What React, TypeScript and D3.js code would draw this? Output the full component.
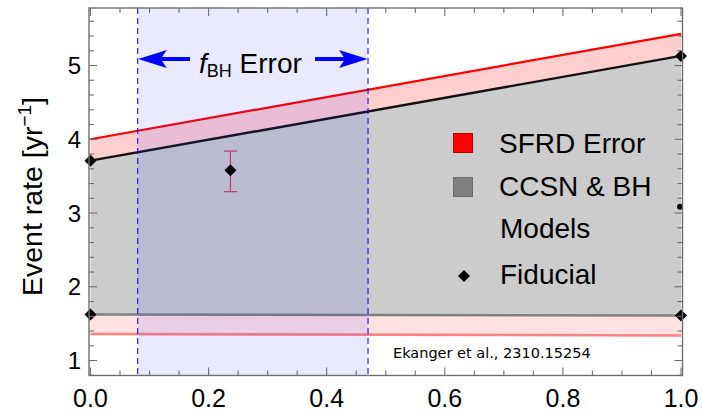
import React from "react";
import * as d3 from "d3";

const W = 702;
const H = 412;

// Model curves at f_BH = 0 and f_BH = 1
const xEnds = [0, 1];
const sfrdUpper = [4.0, 5.43];
const modelUpper = [3.71, 5.13];
const modelLower = [1.625, 1.61];
const sfrdLower = [1.36, 1.34];

// Fiducial markers
const fiducialX = [0, 1, 0, 1];
const fiducialY = [3.71, 5.13, 1.625, 1.61];

// Point with error bar
const measuredX = [0.237];
const measuredY = [3.58];
const measuredLo = [3.29];
const measuredHi = [3.84];

// Extra small dot on the right edge
const dotX = [1];
const dotY = [3.085];

// f_BH uncertainty band
const fbhRange = [0.08, 0.47];

const xTickValues = [0, 0.2, 0.4, 0.6, 0.8, 1.0];
const xTickLabels = ["0.0", "0.2", "0.4", "0.6", "0.8", "1.0"];
const yTickValues = [1, 2, 3, 4, 5];
const yTickLabels = ["1", "2", "3", "4", "5"];
const legendLabels = ["SFRD Error", "CCSN & BH", "Models", "Fiducial"];

const FONT = "'Liberation Sans', Arial, Helvetica, sans-serif";

const left = 89;
const right = 682.5;
const top = 8;
const bottom = 375.5;

const x = d3.scaleLinear().domain([-0.0025, 1.0025]).range([left, right]);
const y = d3.scaleLinear().domain([0.797, 5.78]).range([bottom, top]);

const band = (hi: number[], lo: number[]) =>
  d3
    .area<number>()
    .x((d) => x(d))
    .y0((_, i) => y(lo[i]))
    .y1((_, i) => y(hi[i]))(xEnds) as string;

const line = (vals: number[]) =>
  d3
    .line<number>()
    .x((d) => x(d))
    .y((_, i) => y(vals[i]))(xEnds) as string;

const diamond = (cx: number, cy: number, r: number) =>
  `M${cx},${cy - r}L${cx + r},${cy}L${cx},${cy + r}L${cx - r},${cy}Z`;

export default function App() {
  const xMinor = d3.range(0, 1.0001, 0.05);
  const yMinor = d3.range(0.8, 5.8, 0.2);
  const isMajorX = (v: number) => Math.abs(v * 5 - Math.round(v * 5)) < 1e-6;
  const isMajorY = (v: number) => Math.abs(v - Math.round(v)) < 1e-6;

  const bx0 = x(fbhRange[0]);
  const bx1 = x(fbhRange[1]);
  const arrowY = 59;

  const axisColor = "#6e6e6e";

  return (
    <svg
      width={W}
      height={H}
      style={{ position: "absolute", left: 0, top: 0, background: "#fff" }}
      fontFamily={FONT}
    >
      {/* bands */}
      <path d={band(sfrdUpper, modelUpper)} fill="#ffcfcf" />
      <path d={band(modelUpper, modelLower)} fill="#cccccc" />
      <path d={band(modelLower, sfrdLower)} fill="#ffe1e1" />

      {/* boundary lines */}
      <path d={line(sfrdUpper)} fill="none" stroke="#ff0000" strokeWidth={2.2} />
      <path d={line(modelUpper)} fill="none" stroke="#111" strokeWidth={2.4} />
      <path d={line(modelLower)} fill="none" stroke="#808080" strokeWidth={2.6} />
      <path d={line(sfrdLower)} fill="none" stroke="#ff8080" strokeWidth={2.6} />

      {/* error bar */}
      {measuredX.map((mx, i) => (
        <g key={i} stroke="#c8405a" strokeWidth={1.2}>
          <line x1={x(mx)} x2={x(mx)} y1={y(measuredHi[i])} y2={y(measuredLo[i])} />
          <line x1={x(mx) - 6.5} x2={x(mx) + 6.5} y1={y(measuredHi[i])} y2={y(measuredHi[i])} />
          <line x1={x(mx) - 6.5} x2={x(mx) + 6.5} y1={y(measuredLo[i])} y2={y(measuredLo[i])} />
        </g>
      ))}

      {/* f_BH band */}
      <rect x={bx0} y={top} width={bx1 - bx0} height={bottom - top} fill="rgba(40,40,255,0.1)" />
      <line x1={bx0} x2={bx0} y1={top} y2={bottom} stroke="#0000e0" strokeWidth={1} strokeDasharray="6,4" />
      <line x1={bx1} x2={bx1} y1={top} y2={bottom} stroke="#0000e0" strokeWidth={1} strokeDasharray="6,4" />

      {/* arrows */}
      <g fill="#0000ff" stroke="none">
        <rect x={bx0 + 20} y={arrowY - 2} width={190 - bx0 - 20} height={4} />
        <path d={`M${bx0 + 0.5},${arrowY}L${bx0 + 29},${arrowY - 9}L${bx0 + 23},${arrowY}L${bx0 + 29},${arrowY + 9}Z`} />
        <rect x={315} y={arrowY - 2} width={bx1 - 20 - 315} height={4} />
        <path d={`M${bx1 - 0.5},${arrowY}L${bx1 - 29},${arrowY - 9}L${bx1 - 23},${arrowY}L${bx1 - 29},${arrowY + 9}Z`} />
      </g>
      <text x={199} y={73} fontSize={28} fill="#000">
        <tspan fontStyle="italic">f</tspan>
        <tspan fontSize={18} dy={4}>BH</tspan>
        <tspan dy={-4}> Error</tspan>
      </text>

      {/* fiducial markers */}
      {fiducialX.map((fx, i) => (
        <path key={i} d={diamond(x(fx), y(fiducialY[i]), 6)} fill="#000" />
      ))}
      {measuredX.map((mx, i) => (
        <path key={i} d={diamond(x(mx), y(measuredY[i]), 6)} fill="#000" />
      ))}
      {dotX.map((dx, i) => (
        <circle key={i} cx={x(dx) - 1} cy={y(dotY[i])} r={3} fill="#000" />
      ))}

      {/* legend */}
      <rect x={453.5} y={133.5} width={19} height={19} fill="#ff0000" stroke="#c00000" strokeWidth={1} />
      <rect x={453.5} y={177.5} width={19} height={19} fill="#808080" stroke="#6a6a6a" strokeWidth={1} />
      <path d={diamond(464, 276, 6)} fill="#000" />
      <g fontSize={28} fill="#000">
        <text x={499} y={153}>{legendLabels[0]}</text>
        <text x={499} y={196}>{legendLabels[1]}</text>
        <text x={500} y={238}>{legendLabels[2]}</text>
        <text x={500} y={284}>{legendLabels[3]}</text>
      </g>

      {/* credit */}
      <text x={393} y={358} fontSize={14.5} fontFamily="'DejaVu Sans', sans-serif" fill="#000">
        Ekanger et al., 2310.15254
      </text>

      {/* frame */}
      <rect x={left} y={top} width={right - left} height={bottom - top} fill="none" stroke={axisColor} strokeWidth={1.4} />
      <g stroke={axisColor} strokeWidth={1.1}>
        {xMinor.map((v, i) => {
          const len = isMajorX(v) ? 8 : 5;
          return (
            <g key={i}>
              <line x1={x(v)} x2={x(v)} y1={bottom} y2={bottom - len} />
              <line x1={x(v)} x2={x(v)} y1={top} y2={top + len} />
            </g>
          );
        })}
        {yMinor.map((v, i) => {
          const len = isMajorY(v) ? 8 : 5;
          return (
            <g key={i}>
              <line x1={left} x2={left + len} y1={y(v)} y2={y(v)} />
              <line x1={right} x2={right - len} y1={y(v)} y2={y(v)} />
            </g>
          );
        })}
      </g>

      {/* tick labels */}
      <g fontSize={25} fill="#000" textAnchor="middle">
        {xTickValues.map((v, i) => (
          <text key={i} x={x(v)} y={407}>
            {xTickLabels[i]}
          </text>
        ))}
      </g>
      <g fontSize={24} fill="#000" textAnchor="end">
        {yTickValues.map((v, i) => (
          <text key={i} x={81} y={y(v) + 8.5}>
            {yTickLabels[i]}
          </text>
        ))}
      </g>

      {/* y-axis title */}
      <text transform="translate(42,196.5) rotate(-90)" fontSize={28.5} textAnchor="middle" fill="#000">
        Event rate [yr
        <tspan fontSize={19} dy={-11}>−1</tspan>
        <tspan dy={11}>]</tspan>
      </text>
    </svg>
  );
}
